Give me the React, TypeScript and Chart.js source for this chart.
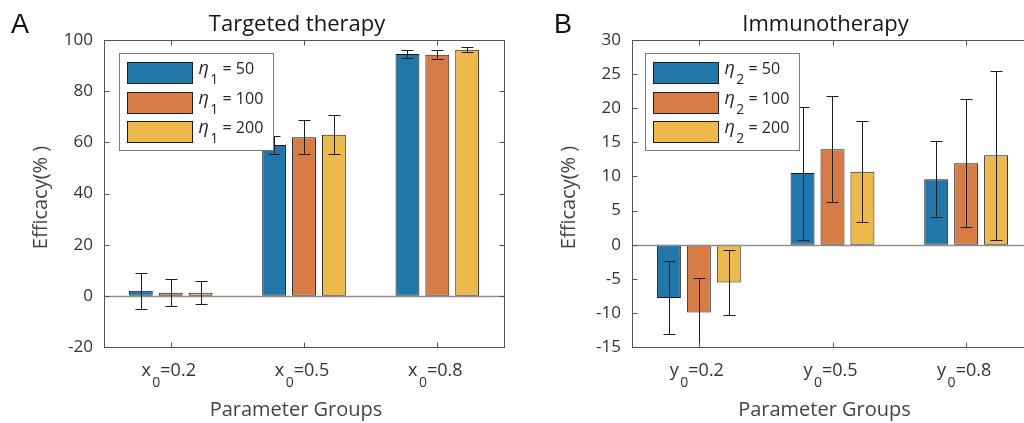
import React, { useEffect, useRef } from 'react';
import { Chart, registerables } from 'chart.js';

Chart.register(...registerables);

// ---------------- data ----------------
const categoriesA = ['x_0=0.2', 'x_0=0.5', 'x_0=0.8'];
const categoriesB = ['y_0=0.2', 'y_0=0.5', 'y_0=0.8'];

const seriesLabelsA = ['η_1 = 50', 'η_1 = 100', 'η_1 = 200'];
const seriesLabelsB = ['η_2 = 50', 'η_2 = 100', 'η_2 = 200'];

const targetedEta50 = [2.0, 59.0, 94.5];
const targetedEta100 = [1.2, 62.0, 94.2];
const targetedEta200 = [1.2, 63.0, 96.2];
const targetedErr50 = [7.0, 3.5, 1.5];
const targetedErr100 = [5.3, 6.6, 1.8];
const targetedErr200 = [4.5, 7.5, 1.0];

const immunoEta50 = [-7.8, 10.5, 9.6];
const immunoEta100 = [-9.95, 14.0, 11.95];
const immunoEta200 = [-5.55, 10.7, 13.1];
const immunoErr50 = [5.35, 9.75, 5.6];
const immunoErr100 = [5.0, 7.8, 9.4];
const immunoErr200 = [4.8, 7.4, 12.4];

const yTicksA = [-20, 0, 20, 40, 60, 80, 100];
const yTicksB = [-15, -10, -5, 0, 5, 10, 15, 20, 25, 30];

const titleA = 'Targeted therapy';
const titleB = 'Immunotherapy';
const letterA = 'A';
const letterB = 'B';
const yAxisLabel = 'Efficacy(% )';
const xAxisLabel = 'Parameter Groups';

// ---------------- style ----------------
const seriesColors = ['#2176AA', '#D87C46', '#EDB94A'];
const FONT = "'Open Sans', 'DejaVu Sans', sans-serif";
const AXIS_COLOR = '#555555';
const TEXT_COLOR = '#333333';

type PanelData = {
  letter: string;
  title: string;
  categories: string[];
  seriesLabels: string[];
  values: number[][];
  errors: number[][];
  yTicks: number[];
};

type PanelLayout = {
  canvasLeft: number;
  canvasWidth: number;
  axisWidth: number;
  padRight: number;
  letterX: number;
  legendDx: number;
};

const panelA: PanelData = {
  letter: letterA,
  title: titleA,
  categories: categoriesA,
  seriesLabels: seriesLabelsA,
  values: [targetedEta50, targetedEta100, targetedEta200],
  errors: [targetedErr50, targetedErr100, targetedErr200],
  yTicks: yTicksA,
};

const panelB: PanelData = {
  letter: letterB,
  title: titleB,
  categories: categoriesB,
  seriesLabels: seriesLabelsB,
  values: [immunoEta50, immunoEta100, immunoEta200],
  errors: [immunoErr50, immunoErr100, immunoErr200],
  yTicks: yTicksB,
};

const layoutA: PanelLayout = { canvasLeft: 0, canvasWidth: 520, axisWidth: 104, padRight: 16, letterX: 11, legendDx: 15 };
const layoutB: PanelLayout = { canvasLeft: 520, canvasWidth: 520, axisWidth: 112, padRight: 7, letterX: 34, legendDx: 13 };

// ---------------- rich text (subscripts) ----------------
type Seg = { t: string; sub: boolean; italic: boolean };

function parseRich(text: string): Seg[] {
  const segs: Seg[] = [];
  let i = 0;
  let buf = '';
  const flush = () => {
    if (!buf) return;
    let cur = '';
    let curItalic = false;
    for (const ch of buf) {
      const it = /[\u03B1-\u03C9]/.test(ch);
      if (cur && it !== curItalic) {
        segs.push({ t: cur, sub: false, italic: curItalic });
        cur = '';
      }
      cur += ch;
      curItalic = it;
    }
    if (cur) segs.push({ t: cur, sub: false, italic: curItalic });
    buf = '';
  };
  while (i < text.length) {
    const ch = text[i];
    if (ch === '_' && i + 1 < text.length) {
      flush();
      segs.push({ t: text[i + 1], sub: true, italic: false });
      i += 2;
    } else {
      buf += ch;
      i += 1;
    }
  }
  flush();
  return segs;
}

function drawRich(
  ctx: CanvasRenderingContext2D,
  text: string,
  x: number,
  y: number,
  size: number,
  subSize: number,
  subDy: number,
  align: 'left' | 'center',
  color: string,
  italicSize?: number
) {
  const segs = parseRich(text);
  const fontFor = (s: Seg) =>
    `${s.italic ? 'italic ' : ''}${s.sub ? subSize : s.italic && italicSize ? italicSize : size}px ${FONT}`;
  const subGap = 1.5;
  let total = 0;
  segs.forEach((s) => {
    ctx.font = fontFor(s);
    total += ctx.measureText(s.t).width + (s.sub ? subGap : 0);
  });
  let cx = align === 'center' ? x - total / 2 : x;
  ctx.fillStyle = color;
  ctx.textAlign = 'left';
  ctx.textBaseline = 'alphabetic';
  segs.forEach((s) => {
    ctx.font = fontFor(s);
    if (s.sub) cx += subGap;
    ctx.fillText(s.t, cx, s.sub ? y + subDy : y);
    cx += ctx.measureText(s.t).width;
  });
}

// ---------------- plugin ----------------
function makePanelPlugin(p: PanelData, l: PanelLayout) {
  return {
    id: 'panelDecor',
    afterDatasetsDraw(chart: any) {
      const ctx: CanvasRenderingContext2D = chart.ctx;
      const { left, right } = chart.chartArea;
      const ys = chart.scales.y;
      ctx.save();
      const y0 = Math.round(ys.getPixelForValue(0)) + 0.5;
      ctx.strokeStyle = '#8f8f8f';
      ctx.lineWidth = 1.6;
      ctx.beginPath();
      ctx.moveTo(left, y0);
      ctx.lineTo(right, y0);
      ctx.stroke();
      ctx.strokeStyle = '#1e1e1e';
      ctx.lineWidth = 1;
      p.values.forEach((vals, i) => {
        const meta = chart.getDatasetMeta(i);
        meta.data.forEach((el: any, j: number) => {
          const x = Math.round(el.x) + 0.5;
          const hi = Math.round(ys.getPixelForValue(vals[j] + p.errors[i][j])) + 0.5;
          const lo = Math.round(ys.getPixelForValue(vals[j] - p.errors[i][j])) + 0.5;
          ctx.beginPath();
          ctx.moveTo(x, hi);
          ctx.lineTo(x, lo);
          ctx.moveTo(x - 6, hi);
          ctx.lineTo(x + 6, hi);
          ctx.moveTo(x - 6, lo);
          ctx.lineTo(x + 6, lo);
          ctx.stroke();
        });
      });
      ctx.restore();
    },
    afterDraw(chart: any) {
      const ctx: CanvasRenderingContext2D = chart.ctx;
      const { left, right, top, bottom } = chart.chartArea;
      const xs = chart.scales.x;
      const ys = chart.scales.y;
      const L = Math.round(left) + 0.5;
      const R = Math.round(right) + 0.5;
      const T = Math.round(top) + 0.5;
      const B = Math.round(bottom) + 0.5;
      ctx.save();
      ctx.strokeStyle = AXIS_COLOR;
      ctx.lineWidth = 1;
      ctx.strokeRect(L, T, R - L, B - T);
      ctx.beginPath();
      p.categories.forEach((_, j) => {
        const x = Math.round(xs.getPixelForValue(j)) + 0.5;
        ctx.moveTo(x, B);
        ctx.lineTo(x, B - 5);
        ctx.moveTo(x, T);
        ctx.lineTo(x, T + 5);
      });
      p.yTicks.forEach((v) => {
        const y = Math.round(ys.getPixelForValue(v)) + 0.5;
        ctx.moveTo(L, y);
        ctx.lineTo(L + 5, y);
        ctx.moveTo(R, y);
        ctx.lineTo(R - 5, y);
      });
      ctx.stroke();

      const cxMid = (left + right) / 2;

      ctx.fillStyle = '#111111';
      ctx.font = `27px 'Liberation Sans', Arial, sans-serif`;
      ctx.textAlign = 'left';
      ctx.textBaseline = 'alphabetic';
      ctx.fillText(p.letter, l.letterX, 33);

      ctx.fillStyle = '#151515';
      ctx.font = `22px ${FONT}`;
      ctx.textAlign = 'center';
      ctx.fillText(p.title, cxMid - 7, 31);

      p.categories.forEach((c, j) => {
        const x = xs.getPixelForValue(j);
        drawRich(ctx, c, x - 2, bottom + 29, 18, 14, 11, 'center', TEXT_COLOR);
      });

      ctx.fillStyle = '#444444';
      ctx.font = `20px ${FONT}`;
      ctx.textAlign = 'center';
      ctx.textBaseline = 'alphabetic';
      ctx.fillText(xAxisLabel, cxMid - 8, 416);

      ctx.save();
      ctx.translate(left - 63, (top + bottom) / 2 + 4);
      ctx.rotate(-Math.PI / 2);
      ctx.fillStyle = '#444444';
      ctx.font = `20px ${FONT}`;
      ctx.textAlign = 'center';
      ctx.textBaseline = 'middle';
      ctx.fillText(yAxisLabel, 0, 0);
      ctx.restore();

      const bx = Math.round(left + l.legendDx) + 0.5;
      const by = 53.5;
      const bw = 154;
      const bh = 97;
      ctx.fillStyle = '#ffffff';
      ctx.fillRect(bx, by, bw, bh);
      ctx.strokeStyle = '#7a7a7a';
      ctx.lineWidth = 1;
      ctx.strokeRect(bx, by, bw, bh);
      p.seriesLabels.forEach((lab, i) => {
        const sy = Math.round(62 + i * 29.5) + 0.5;
        ctx.fillStyle = seriesColors[i];
        ctx.fillRect(bx + 8, sy, 65, 21);
        ctx.strokeStyle = '#1e1e1e';
        ctx.strokeRect(bx + 8, sy, 65, 21);
        drawRich(ctx, lab, bx + 79, sy + 11.5, 16, 14, 10, 'left', '#262626', 18);
      });
      ctx.restore();
    },
  };
}

function buildConfig(p: PanelData, l: PanelLayout): any {
  return {
    type: 'bar',
    data: {
      labels: p.categories,
      datasets: p.values.map((v, i) => ({
        label: p.seriesLabels[i],
        data: v,
        backgroundColor: seriesColors[i],
        borderColor: '#1a1a1a',
        borderWidth: 1,
        borderSkipped: false,
        categoryPercentage: 0.672,
        barPercentage: 0.8,
      })),
    },
    options: {
      animation: false,
      responsive: false,
      maintainAspectRatio: false,
      devicePixelRatio: 1,
      layout: { padding: { top: 40, right: l.padRight, bottom: 76, left: 0 } },
      plugins: {
        legend: { display: false },
        tooltip: { enabled: false },
        title: { display: false },
      },
      scales: {
        x: {
          type: 'category',
          display: false,
          offset: true,
          grid: { display: false },
        },
        y: {
          type: 'linear',
          min: p.yTicks[0],
          max: p.yTicks[p.yTicks.length - 1],
          afterFit: (s: any) => {
            s.width = l.axisWidth;
          },
          afterBuildTicks: (s: any) => {
            s.ticks = p.yTicks.map((v) => ({ value: v }));
          },
          ticks: {
            font: { family: FONT, size: 17 },
            color: TEXT_COLOR,
            padding: 11,
          },
          grid: { display: false, drawTicks: false },
          border: { display: false },
        },
      },
    },
    plugins: [makePanelPlugin(p, l)],
  };
}

function PanelChart({ data, layout }: { data: PanelData; layout: PanelLayout }) {
  const ref = useRef<HTMLCanvasElement>(null);
  useEffect(() => {
    if (!ref.current) return;
    const chart = new Chart(ref.current, buildConfig(data, layout));
    return () => chart.destroy();
  }, [data, layout]);
  return (
    <canvas
      ref={ref}
      width={layout.canvasWidth}
      height={423}
      style={{ position: 'absolute', left: layout.canvasLeft, top: 0, width: layout.canvasWidth, height: 423 }}
    />
  );
}

export default function App() {
  return (
    <div
      style={{
        position: 'fixed',
        left: 0,
        top: 0,
        width: 1024,
        height: 423,
        overflow: 'hidden',
        background: '#ffffff',
      }}
    >
      <PanelChart data={panelA} layout={layoutA} />
      <PanelChart data={panelB} layout={layoutB} />
    </div>
  );
}
